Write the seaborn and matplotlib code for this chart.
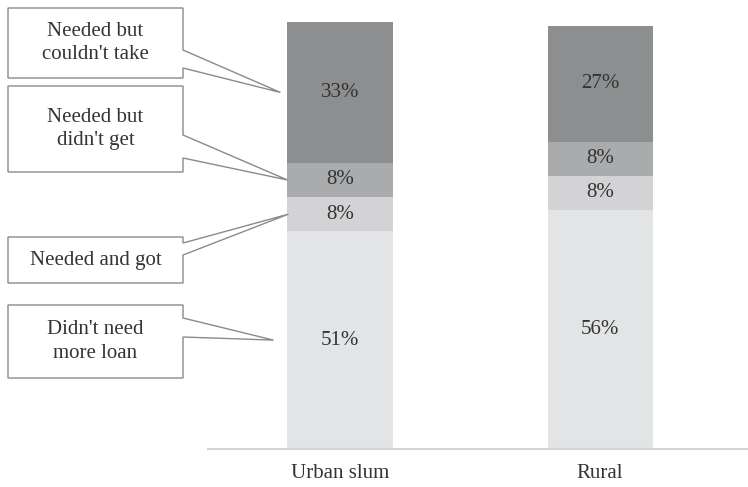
import numpy as np
import pandas as pd
import matplotlib
matplotlib.use("Agg")
import matplotlib.pyplot as plt
from matplotlib.patches import Polygon
import seaborn as sns

# Loan need by area (% of households), stacked bottom to top
areas = ["Urban slum", "Rural"]
segments = ["Didn't need\nmore loan", "Needed and got", "Needed but\ndidn't get", "Needed but\ncouldn't take"]
didnt_need = [51, 56]
needed_got = [8, 8]
needed_didnt_get = [8, 8]
needed_couldnt_take = [33, 27]
seg_colors = ["#e3e4e6", "#d3d3d5", "#aaabad", "#8d8e90"]

values = np.array([didnt_need, needed_got, needed_didnt_get, needed_couldnt_take], dtype=float)
tops = np.cumsum(values, axis=0)
bottoms = tops - values

sns.set_style("white")
plt.rcParams["font.family"] = ["Liberation Serif", "DejaVu Serif"]
TXT = "#333333"
FS = 15

W, H = 748, 487
fig = plt.figure(figsize=(W / 100, H / 100), dpi=100)
ax = fig.add_axes([208 / W, (H - 449) / H, 540 / W, (449 - 22) / H])

# overlapping cumulative bars, tallest first
for i in range(len(segments) - 1, -1, -1):
    df = pd.DataFrame({"area": areas, "total": tops[i]})
    sns.barplot(data=df, x="area", y="total", color=seg_colors[i], width=0.404,
                saturation=1, linewidth=0, ax=ax, order=areas)

for i in range(len(segments)):
    for j in range(len(areas)):
        ax.text(j, bottoms[i, j] + values[i, j] / 2, f"{values[i, j]:.0f}%",
                ha="center", va="center", fontsize=FS, color=TXT)

ax.set_ylim(0, 100)
ax.set_xlim(-0.5077, 1.569)
ax.set_xlabel("")
ax.set_ylabel("")
ax.set_yticks([])
for s in ["top", "right", "left"]:
    ax.spines[s].set_visible(False)
ax.spines["bottom"].set_color("#d4d4d4")
ax.spines["bottom"].set_linewidth(1.5)
ax.tick_params(axis="x", length=0, pad=11, labelsize=FS, labelcolor=TXT)

# callout boxes pointing at the urban slum segments
fig.canvas.draw()
to_px = ax.transData
boxes = [  # (top, bottom, attach_top, attach_bottom, tip_dx) in pixels from top
    (8, 78, 50, 68, -7),
    (86, 172, 135, 158, 0),
    (237, 283, 243, 255, 1),
    (305, 378, 318, 337, -14),
]
x0, x1 = 8, 183
bar_left = to_px.transform((0 - 0.404 / 2, 0))[0]
for k, (bt, bb, at, ab, dx) in enumerate(boxes):
    seg = len(segments) - 1 - k
    mid = bottoms[seg, 0] + values[seg, 0] / 2
    tip = to_px.transform((0, mid))
    tx, ty = bar_left + dx, tip[1]
    pts = [(x0, H - bt), (x1, H - bt), (x1, H - at), (tx, ty), (x1, H - ab),
           (x1, H - bb), (x0, H - bb)]
    fig.patches.append(Polygon(pts, closed=True, facecolor="white", edgecolor="#8a8a8a",
                               linewidth=1.0, transform=None, figure=fig))
    fig.text((x0 + x1) / 2 / W, (H - (bt + bb) / 2) / H, segments[seg],
             ha="center", va="center", fontsize=FS, color=TXT, linespacing=1.3)

fig.savefig("out.png", dpi=100)
